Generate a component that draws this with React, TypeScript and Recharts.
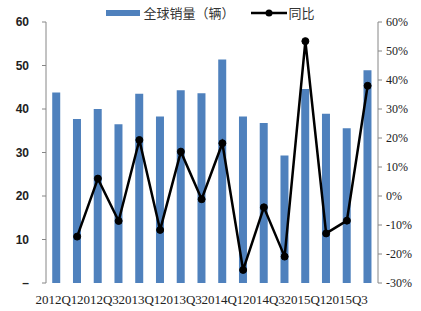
import { ComposedChart, Bar, Line, XAxis, YAxis, Legend } from 'recharts';

const quarters = [
  '2012Q1', '2012Q2', '2012Q3', '2012Q4',
  '2013Q1', '2013Q2', '2013Q3', '2013Q4',
  '2014Q1', '2014Q2', '2014Q3', '2014Q4',
  '2015Q1', '2015Q2', '2015Q3', '2015Q4',
];
const sales = [43.8, 37.7, 40.0, 36.5, 43.5, 38.3, 44.3, 43.6, 51.4, 38.3, 36.8, 29.3, 44.6, 38.9, 35.6, 48.9];
const yoy = [null, -14, 6, -8.6, 19.3, -11.7, 15.3, -1.1, 18.2, -25.5, -3.9, -20.9, 53.4, -12.9, -8.5, 38];

const leftTicks = [0, 10, 20, 30, 40, 50, 60];
const rightTicks = [-30, -20, -10, 0, 10, 20, 30, 40, 50, 60];
const boundaryTicks = Array.from({ length: quarters.length + 1 }, (_, i) => i);

const BLUE = '#4F81BD';
const AXIS = '#868686';
const SERIF = '"Liberation Serif", "DejaVu Serif", serif';
const CJK = '"Noto Sans CJK SC", sans-serif';

const data = quarters.map((q, i) => ({ q, sales: sales[i], yoy: yoy[i] }));

function LegendContent() {
  return (
    <div style={{ display: 'flex', justifyContent: 'center', alignItems: 'center', fontFamily: CJK, fontSize: 13, color: '#333', lineHeight: '18px' }}>
      <span style={{ display: 'inline-block', width: 34, height: 6, background: BLUE, marginRight: 3 }} />
      <span>全球销量（辆）</span>
      <svg width={36} height={10} style={{ marginLeft: 16, marginRight: 2 }}>
        <line x1={0} y1={5} x2={36} y2={5} stroke="#000" strokeWidth={2.5} />
        <circle cx={18} cy={5} r={3.5} fill="#000" />
      </svg>
      <span>同比</span>
    </div>
  );
}

export default function App() {
  return (
    <div style={{ position: 'absolute', left: 0, top: 0 }}>
      <ComposedChart width={421} height={311} data={data} margin={{ top: 4, right: 0, bottom: 0, left: 0 }} barCategoryGap="30%">
        <Legend verticalAlign="top" height={18} content={<LegendContent />} />
        <XAxis
          xAxisId="tk"
          type="number"
          domain={[0, quarters.length]}
          ticks={boundaryTicks}
          height={0}
          stroke={AXIS}
          tickSize={4}
          tick={() => <g />}
          allowDataOverflow
        />
        <XAxis
          xAxisId="cat"
          dataKey="q"
          interval={1}
          height={28}
          axisLine={false}
          tickLine={false}
          tickMargin={6}
          tick={{ fill: '#222', fontSize: 13, fontFamily: SERIF }}
        />
        <YAxis
          yAxisId="l"
          width={46}
          domain={[0, 60]}
          ticks={leftTicks}
          stroke={AXIS}
          tickSize={4}
          tickMargin={13}
          tickFormatter={(v: number) => (v === 0 ? '–' : String(v))}
          tick={{ fill: '#222', fontSize: 12, fontWeight: 'bold', fontFamily: '"Liberation Sans", sans-serif' }}
        />
        <YAxis
          yAxisId="r"
          orientation="right"
          width={43}
          domain={[-30, 60]}
          ticks={rightTicks}
          stroke={AXIS}
          tickSize={4}
          tickMargin={4}
          tickFormatter={(v: number) => `${v}%`}
          tick={{ fill: '#222', fontSize: 12, fontFamily: SERIF, textAnchor: 'start' }}
        />
        <Bar xAxisId="cat" yAxisId="l" dataKey="sales" fill={BLUE} isAnimationActive={false} />
        <Line
          xAxisId="cat"
          yAxisId="r"
          dataKey="yoy"
          stroke="#000"
          strokeWidth={2.5}
          dot={{ r: 3.5, fill: '#000', stroke: '#000', strokeWidth: 1 }}
          connectNulls={false}
          isAnimationActive={false}
        />
      </ComposedChart>
    </div>
  );
}
